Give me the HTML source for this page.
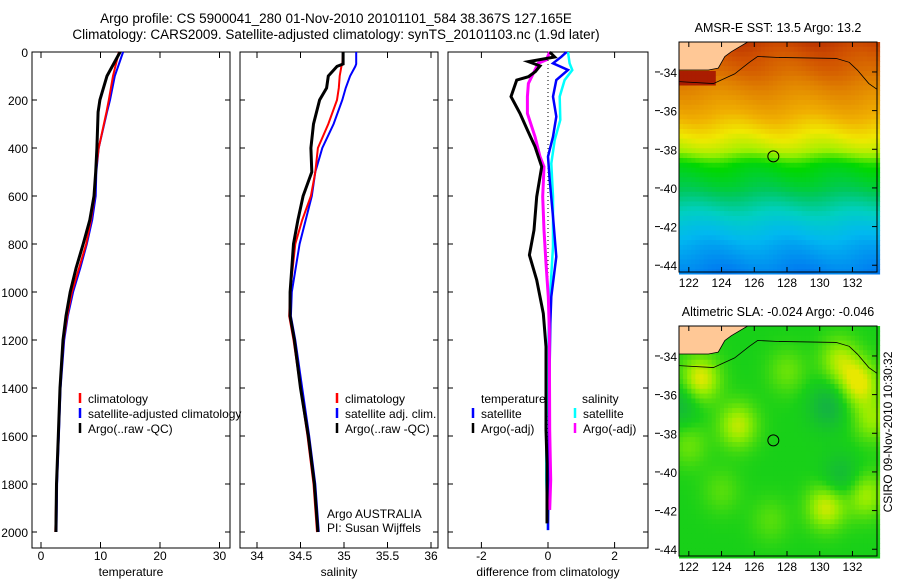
<!DOCTYPE html>
<html><head><meta charset="utf-8"><style>
html,body{margin:0;padding:0;background:#fff}
svg{display:block;font-family:"Liberation Sans",sans-serif}
</style></head><body>
<svg id="fig" width="900" height="580" viewBox="0 0 900 580" xmlns="http://www.w3.org/2000/svg">
<text x="336" y="23" font-size="13.5" text-anchor="middle">Argo profile: CS 5900041_280 01-Nov-2010 20101101_584 38.367S 127.165E</text>
<text x="336" y="39" font-size="13.5" text-anchor="middle">Climatology: CARS2009. Satellite-adjusted climatology: synTS_20101103.nc (1.9d later)</text>
<g id="g"></g>
</svg>
<script>
// ---- profile data ----
const tDepth = [0,100,200,250,400,500,600,700,800,900,1000,1100,1200,1400,1600,1800,2000];
const tArgo  = [13.3,11.1,9.9,9.6,9.4,9.2,8.9,8.2,7.1,5.9,4.9,4.2,3.7,3.2,2.9,2.6,2.5];
const tClim  = [13.1,12.1,11.4,11.0,9.7,9.2,9.0,8.4,7.6,6.4,5.2,4.4,3.8,3.2,2.9,2.6,2.4];
const tSat   = [13.8,12.4,11.6,11.1,9.7,9.3,9.2,8.6,7.7,6.6,5.4,4.5,3.9,3.3,3.0,2.7,2.6];
const sDepth = [0,50,60,100,150,200,300,400,500,600,700,800,1000,1100,1200,1400,1600,1800,2000];
const sArgo  = [34.99,34.99,34.92,34.82,34.80,34.72,34.65,34.62,34.63,34.53,34.47,34.42,34.38,34.38,34.43,34.50,34.59,34.66,34.70];
const sClim  = [34.99,34.98,34.97,34.95,34.94,34.92,34.82,34.70,34.67,34.62,34.52,34.44,34.38,34.37,34.42,34.50,34.58,34.65,34.69];
const sSat   = [35.14,35.14,35.13,35.07,35.02,34.98,34.88,34.75,34.67,34.63,34.56,34.49,34.40,34.39,34.44,34.52,34.60,34.67,34.71];
const dTArgoDepth = [0,21,40,58,82,103,117,186,256,325,394,478,603,742,846,950,1089,1228,1436,1575,1714,1964];
const dTArgo = [0.05,0.2,-0.59,-0.24,-0.38,-0.59,-0.94,-1.11,-0.84,-0.62,-0.39,-0.19,-0.34,-0.42,-0.56,-0.34,-0.14,-0.06,-0.06,-0.06,-0.03,-0.03];
const dSArgoDepth = [0,33,47,103,131,186,256,353,436,478,603,742,881,1019,1158,1575,1783,1908];
const dSArgo = [0.05,-0.05,-0.29,-0.49,-0.59,-0.62,-0.62,-0.39,-0.24,-0.12,-0.16,-0.12,-0.06,0.01,0.04,0.05,0.08,0.05];
const dTSatDepth = [0,20,47,75,117,186,269,353,436,533,686,853,1019,1131,1297,1992];
const dTSat = [0.56,0.4,0.15,0.6,0.25,0.15,0.25,0.15,0.0,0.05,0.15,0.25,0.1,0.07,0.05,0.0];
const dSSatDepth = [0,47,75,117,186,283,367,464,603,811,1089,1297,1575,1783,1992];
const dSSat = [0.6,0.65,0.73,0.5,0.35,0.37,0.2,0.1,0.15,0.15,0.03,0.0,-0.05,-0.05,0.0];
const depthTicks = [0,200,400,600,800,1000,1200,1400,1600,1800,2000];
const tTicks = [0,10,20,30];
const sTicks = [34,34.5,35,35.5,36];
const sTickLabels = ["34","34.5","35","35.5","36"];
const dTicks = [-2,0,2];
const lonTicks = [122,124,126,128,130,132];
const latTicks = [-34,-36,-38,-40,-42,-44];

const NS="http://www.w3.org/2000/svg";
const G=document.getElementById('g');
function el(tag,attrs,parent,txt){const e=document.createElementNS(NS,tag);for(const k in attrs)e.setAttribute(k,attrs[k]);if(txt!==undefined)e.textContent=txt;(parent||G).appendChild(e);return e;}
const yD = d => 52 + d*0.24;
const Y0=52,Y1=548;
function panel(name,x0,x1,xs,ticks,labels,title){
  const g=el('g',{});
  
  
  const r=el('rect',{x:x0,y:Y0,width:x1-x0,height:Y1-Y0,fill:'none',stroke:'#000','stroke-width':1},g);
  
  
  ticks.forEach((t,i)=>{const x=xs(t);
    el('line',{x1:x,x2:x,y1:Y0,y2:Y0+6,stroke:'#000'},g);
    el('line',{x1:x,x2:x,y1:Y1,y2:Y1-6,stroke:'#000'},g);
    const tx=el('text',{x:x,y:560,'font-size':12,'text-anchor':'middle'},g,labels[i]);
    
    
  });
  depthTicks.forEach(d=>{const y=yD(d);
    el('line',{x1:x0,x2:x0+5,y1:y,y2:y,stroke:'#000'},g);
    el('line',{x1:x1,x2:x1-5,y1:y,y2:y,stroke:'#000'},g);
  });
  const tt=el('text',{x:(x0+x1)/2,y:576,'font-size':12,'text-anchor':'middle'},g,title);
  
  
  return g;
}
function line(g,name,xs,vals,depths,color,w){
  const p=vals.map((v,i)=>xs(v).toFixed(1)+','+yD(depths[i]).toFixed(1)).join(' ');
  const l=el('polyline',{points:p,fill:'none',stroke:color,'stroke-width':w,'stroke-linejoin':'miter'},g);
  
  
}
function legend(g,x,y,color,text,name){
  el('line',{x1:x,x2:x,y1:y-10,y2:y,stroke:color,'stroke-width':2.5},g);
  const t=el('text',{x:x+8,y:y,'font-size':12},g,text);
  
  
}
depthTicks.forEach(d=>{const t=el('text',{x:28,y:yD(d)+5,'font-size':12,'text-anchor':'end'},G,String(d));
  
  });
const xT=v=>41+v*5.95;
const p1=panel('temperature-panel',32,230,xT,tTicks,tTicks.map(String),'temperature');
line(p1,'temperature-satellite-line',xT,tSat,tDepth,'#0000ff',2);
line(p1,'temperature-climatology-line',xT,tClim,tDepth,'#ff0000',2);
line(p1,'temperature-argo-line',xT,tArgo,tDepth,'#000',3);
legend(p1,80,403,'#ff0000','climatology','legend-climatology');
legend(p1,80,418,'#0000ff','satellite-adjusted climatology','legend-satellite');
legend(p1,80,433,'#000','Argo(..raw -QC)','legend-argo');
const xS=v=>257+(v-34)*87;
const p2=panel('salinity-panel',240,438,xS,sTicks,sTickLabels,'salinity');
line(p2,'salinity-satellite-line',xS,sSat,sDepth,'#0000ff',2);
line(p2,'salinity-climatology-line',xS,sClim,sDepth,'#ff0000',2);
line(p2,'salinity-argo-line',xS,sArgo,sDepth,'#000',3);
legend(p2,337,403,'#ff0000','climatology','legend-climatology');
legend(p2,337,418,'#0000ff','satellite adj. clim.','legend-satellite');
legend(p2,337,433,'#000','Argo(..raw -QC)','legend-argo');
const a1=el('text',{x:327,y:518,'font-size':12},p2,'Argo AUSTRALIA');


const a2=el('text',{x:327,y:532,'font-size':12},p2,'PI: Susan Wijffels');


const xDf=v=>548+v*33.3;
const p3=panel('difference-panel',448,648,xDf,dTicks,dTicks.map(String),'difference from climatology');
el('line',{x1:548,x2:548,y1:52,y2:530,stroke:'#000','stroke-dasharray':'1,3'},p3);
line(p3,'salinity-satellite-diff-line',xDf,dSSat,dSSatDepth,'#00ffff',2.5);
line(p3,'temperature-satellite-diff-line',xDf,dTSat,dTSatDepth,'#0000ff',2.5);
line(p3,'salinity-argo-diff-line',xDf,dSArgo,dSArgoDepth,'#ff00ff',3);
line(p3,'temperature-argo-diff-line',xDf,dTArgo,dTArgoDepth,'#000',3);
const lt=el('text',{x:481,y:403,'font-size':12},p3,'temperature');


const ls=el('text',{x:582,y:403,'font-size':12},p3,'salinity');


legend(p3,473,418,'#0000ff','satellite','legend-temp-satellite');
legend(p3,473,433,'#000','Argo(-adj)','legend-temp-argo');
legend(p3,575,418,'#00ffff','satellite','legend-sal-satellite');
legend(p3,575,433,'#ff00ff','Argo(-adj)','legend-sal-argo');

// ---- maps ----
const LON0=121.4,LON1=133.5,LAT0=-32.45,LAT1=-44.35;
function hex(c){return [parseInt(c.substr(1,2),16),parseInt(c.substr(3,2),16),parseInt(c.substr(5,2),16)];}
function cmap(stops,v){v=Math.max(stops[0][0],Math.min(stops[stops.length-1][0],v));
  for(let i=1;i<stops.length;i++){if(v<=stops[i][0]){const a=stops[i-1],b=stops[i],f=(v-a[0])/(b[0]-a[0]);const ca=hex(a[1]),cb=hex(b[1]);
    return 'rgb('+ca.map((x,k)=>Math.round(x+(cb[k]-x)*f)).join(',')+')';}}return stops[stops.length-1][1];}
const sstStops=[[0,'#0040d0'],[0.1,'#0080f0'],[0.2,'#00b8f0'],[0.3,'#00d0c0'],[0.4,'#00c860'],[0.5,'#00d800'],[0.58,'#a0f000'],[0.65,'#f0e800'],[0.72,'#f0b000'],[0.82,'#e08000'],[0.9,'#d05000'],[1,'#a01000']];
const slaStops=[[-1,'#10a060'],[0,'#18d018'],[0.6,'#90ec00'],[1,'#e8e800']];
const latK=[-32.4,-33,-34,-35,-36,-37,-38,-38.8,-40,-41,-42,-43,-44,-44.4];
const latV=[0.93,0.9,0.86,0.8,0.74,0.67,0.6,0.5,0.43,0.33,0.24,0.17,0.12,0.1];
function interp(xs,ys,x){for(let i=1;i<xs.length;i++){if(x>=xs[i]){const f=(x-xs[i-1])/(xs[i]-xs[i-1]);return ys[i-1]+(ys[i]-ys[i-1])*f;}}return ys[ys.length-1];}
const blobs=[[122.7,-35.2,1],[125,-37.6,0.8],[131.2,-34.2,0.7],[132.4,-35.4,1],[130.4,-41.8,0.9],[133.2,-37.3,0.6],[132.8,-41.2,0.7],[128,-34.8,0.4],[130.5,-36.6,-0.6],[121.5,-36.5,-0.5],[131.3,-40.3,-0.5],[122,-38.6,0.4],[124,-41,0.3],[127,-42.5,0.3]];
const land=[[121.4,-32.45],[125.6,-32.45],[124.6,-32.95],[124.2,-33.2],[123.8,-33.8],[123.2,-33.9],[121.4,-33.9]];
const iso=[[121.4,-34.5],[123.5,-34.6],[124.8,-34.1],[125.7,-33.5],[126.2,-33.2],[127.5,-33.25],[131,-33.3],[131.8,-33.5],[132.3,-33.9],[133,-34.6],[133.5,-34.9]];
function map(name,top,title,kind){
  const bottom=top+230,x0=679,x1=877;
  const X=lon=>x0+(lon-LON0)/(LON1-LON0)*(x1-x0);
  const Y=lat=>top+(lat-LAT0)/(LAT1-LAT0)*(bottom-top);
  const g=el('g',{});
  
  
  const dl=0.25,dp=0.25;
  for(let lat=LAT0;lat>LAT1;lat-=dp){for(let lon=LON0;lon<LON1;lon+=dl){
    const lc=lon+dl/2,pc=lat-dp/2;let c;
    if(kind==='sst'){let v=interp(latK,latV,pc)+0.015*Math.sin(lc*1.3+pc*0.7);
      if(lc<123.6&&pc<-33.9&&pc>-34.7)v=0.98;
      v+=0.08*Math.exp(-((lc-122.7)**2+(pc-36)**2)/1.2);
      v-=0.05*Math.exp(-((lc-127.5)**2+(pc-41.5)**2)/1.5);
      v-=0.05*Math.exp(-((lc-131.5)**2+(pc-43.8)**2)/1.5);
      c=cmap(sstStops,v);}
    else{let v=0;blobs.forEach(b=>{v+=b[2]*Math.exp(-((lc-b[0])**2+(pc-b[1])**2)/1.4);});c=cmap(slaStops,v);}
    el('rect',{x:X(lon).toFixed(1),y:Y(lat).toFixed(1),width:(X(lon+dl)-X(lon)+0.6).toFixed(1),height:(Y(lat-dp)-Y(lat)+0.6).toFixed(1),fill:c},g);
  }}
  const lp=el('polygon',{points:land.map(p=>X(p[0])+','+Y(p[1])).join(' '),fill:'#ffc896',stroke:'#000','stroke-width':0.8},g);
  
  
  const il=el('polyline',{points:iso.map(p=>X(p[0])+','+Y(p[1])).join(' '),fill:'none',stroke:'#000','stroke-width':0.8},g);
  
  
  const ci=el('circle',{cx:X(127.165),cy:Y(-38.367),r:5.5,fill:'none',stroke:'#000','stroke-width':1},g);
  
  
  el('rect',{x:x0,y:top,width:x1-x0,height:bottom-top,fill:'none',stroke:'#000'},g);
  lonTicks.forEach(t=>{const x=X(t);el('line',{x1:x,x2:x,y1:bottom,y2:bottom-5,stroke:'#000'},g);el('line',{x1:x,x2:x,y1:top,y2:top+5,stroke:'#000'},g);
    const tx=el('text',{x:x,y:bottom+15,'font-size':12,'text-anchor':'middle'},g,String(t));
    
    });
  latTicks.forEach(t=>{const y=Y(t);el('line',{x1:x1,x2:x1-5,y1:y,y2:y,stroke:'#000'},g);el('line',{x1:655,x2:660,y1:y,y2:y,stroke:'#000'},g);
    const tx=el('text',{x:677,y:y+5,'font-size':12,'text-anchor':'end'},g,String(t));
    
    });
  const tt=el('text',{x:778,y:top-10,'font-size':12.5,'text-anchor':'middle'},g,title);
  
  
}
map('sst-map',42,'AMSR-E SST: 13.5  Argo: 13.2','sst');
map('sla-map',326,'Altimetric SLA: -0.024  Argo: -0.046','sla');
const cs=el('text',{x:0,y:0,'font-size':12,'text-anchor':'middle',transform:'translate(892,432) rotate(-90)'},G,'CSIRO 09-Nov-2010 10:30:32');


</script>
</body></html>
